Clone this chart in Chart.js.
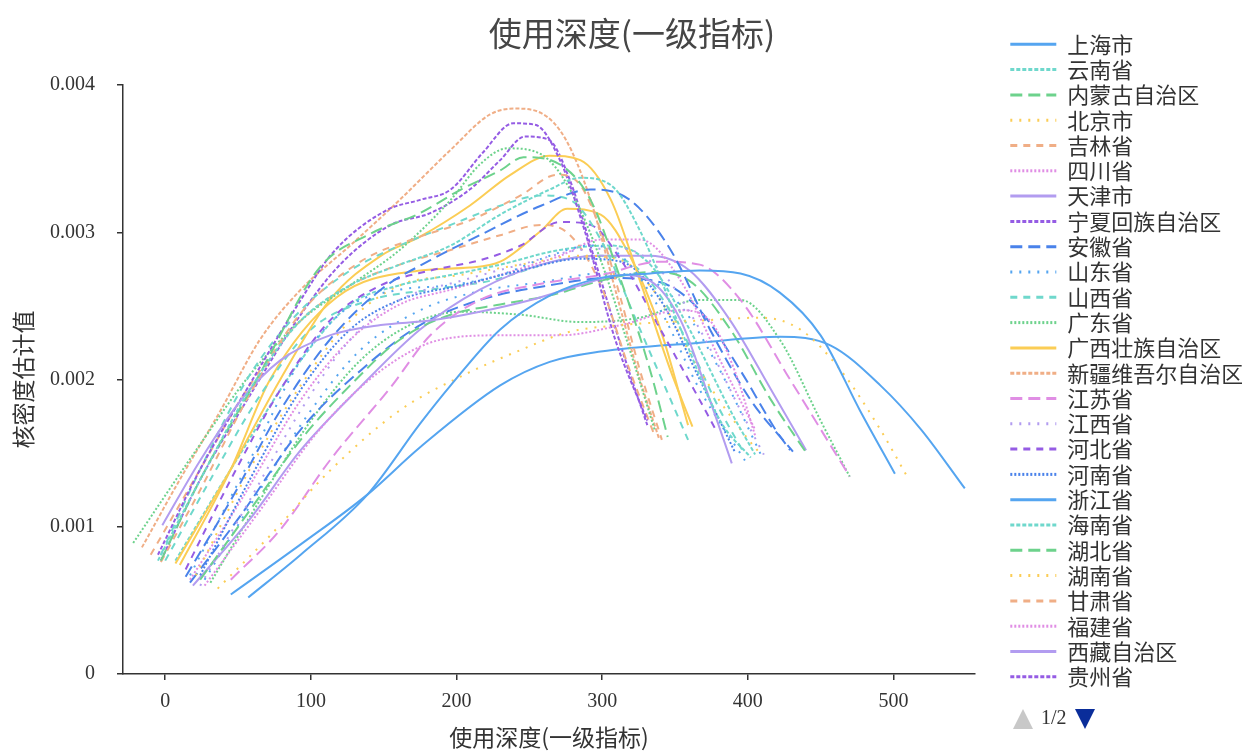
<!DOCTYPE html>
<html>
<head>
<meta charset="utf-8">
<script src="https://cdn.jsdelivr.net/npm/chart.js@4.4.1/dist/chart.umd.min.js"></script>
<style>
  html, body { margin: 0; padding: 0; background: #fff; }
  #wrap { width: 1242px; height: 751px; }
</style>
</head>
<body>
<div id="wrap"><canvas id="myChart" width="1242" height="751"></canvas></div>
<script>
// 使用深度(一级指标) kernel density curves, one per province
const chartTitle = '使用深度(一级指标)';
const xTitle = '使用深度(一级指标)';
const yTitle = '核密度估计值';

const provinces = ['上海市', '云南省', '内蒙古自治区', '北京市', '吉林省', '四川省', '天津市', '宁夏回族自治区',
  '安徽省', '山东省', '山西省', '广东省', '广西壮族自治区', '新疆维吾尔自治区', '江苏省', '江西省', '河北省',
  '河南省', '浙江省', '海南省', '湖北省', '湖南省', '甘肃省', '福建省', '西藏自治区', '贵州省',
  '辽宁省', '重庆市', '陕西省', '青海省', '黑龙江省'];

// x values of each density curve (same order as provinces)
const densityX = [
  [57, 93, 139, 175, 196, 230, 264, 299, 333, 367, 395, 422, 450, 477, 501],
  [-5, 24, 58, 93, 127, 161, 196, 230, 264, 285, 306, 326, 354, 381, 402],
  [-3, 24, 65, 106, 141, 175, 203, 230, 246, 271, 292, 313, 333, 345],
  [36, 72, 113, 161, 207, 244, 276, 313, 367, 409, 436, 464, 491, 510],
  [-3, 24, 58, 93, 134, 175, 209, 244, 269, 285, 299, 313, 326, 341],
  [27, 65, 106, 148, 189, 230, 271, 313, 354, 374, 391, 405],
  [-2, 24, 52, 79, 113, 148, 182, 216, 251, 285, 313, 333, 354, 374, 389],
  [-5, 24, 60, 93, 115, 152, 175, 196, 218, 239, 254, 271, 288, 309, 331],
  [14, 45, 79, 113, 148, 182, 216, 258, 292, 319, 347, 374, 402, 431],
  [17, 58, 93, 127, 161, 196, 230, 264, 292, 313, 340, 367, 398],
  [-3, 24, 58, 93, 127, 161, 196, 230, 258, 278, 299, 326, 359],
  [-22, 24, 58, 93, 127, 161, 196, 216, 235, 258, 278, 299, 319, 336],
  [7, 45, 79, 113, 148, 175, 209, 237, 264, 285, 306, 326, 347, 362],
  [-16, 10, 38, 65, 93, 127, 161, 196, 223, 240, 258, 275, 292, 309, 326, 339],
  [45, 79, 113, 155, 182, 216, 258, 299, 340, 367, 395, 429, 470],
  [24, 58, 93, 127, 161, 203, 244, 285, 313, 340, 367, 395, 411],
  [14, 45, 79, 113, 148, 182, 216, 244, 271, 292, 313, 340, 367, 379],
  [24, 58, 93, 127, 161, 203, 244, 285, 313, 340, 367, 391],
  [45, 93, 139, 175, 230, 264, 299, 367, 422, 457, 491, 519, 549],
  [7, 45, 93, 127, 161, 196, 230, 271, 306, 333, 360, 388, 405],
  [24, 58, 93, 127, 161, 196, 230, 264, 299, 333, 360, 388, 416, 441],
  [21, 58, 93, 127, 161, 203, 244, 285, 313, 340, 367, 395, 409],
  [-10, 24, 58, 93, 127, 161, 196, 230, 258, 278, 299, 319, 336],
  [17, 52, 93, 127, 161, 196, 230, 271, 299, 326, 354, 381, 405],
  [19, 58, 93, 134, 175, 216, 258, 299, 333, 360, 388, 416, 440],
  [-3, 24, 58, 93, 120, 155, 182, 209, 230, 247, 263, 278, 295, 316, 331],
  [17, 52, 93, 134, 175, 216, 264, 306, 340, 367, 395, 419, 429],
  [27, 65, 100, 134, 175, 216, 258, 299, 326, 354, 381, 409],
  [0, 31, 65, 100, 141, 182, 223, 271, 299, 326, 354, 381, 398],
  [31, 65, 100, 134, 168, 203, 244, 285, 326, 367, 395, 422, 450, 470],
  [10, 45, 72, 118, 175, 209, 230, 258, 276, 299, 319, 340, 359]
];

// estimated density values
const densityY = [
  [0.00052, 0.00081, 0.00122, 0.0017, 0.00196, 0.00234, 0.00257, 0.00269, 0.00272, 0.00274, 0.00272, 0.00259, 0.0023, 0.00179, 0.00136],
  [0.00077, 0.00132, 0.00193, 0.0024, 0.00264, 0.00278, 0.00291, 0.00312, 0.00329, 0.00337, 0.00332, 0.00301, 0.00234, 0.00172, 0.00147],
  [0.00077, 0.00132, 0.00204, 0.00276, 0.00299, 0.00313, 0.00329, 0.00342, 0.00351, 0.00346, 0.00322, 0.00267, 0.00206, 0.00161],
  [0.00058, 0.00094, 0.00138, 0.00179, 0.00204, 0.0022, 0.00232, 0.00237, 0.0024, 0.00242, 0.00234, 0.00206, 0.00166, 0.00133],
  [0.00076, 0.00125, 0.0019, 0.00245, 0.0028, 0.00297, 0.00308, 0.00325, 0.00339, 0.00332, 0.00301, 0.00254, 0.00206, 0.00159],
  [0.0006, 0.00111, 0.00166, 0.00206, 0.00227, 0.0023, 0.0023, 0.00237, 0.00247, 0.0024, 0.00206, 0.00162],
  [0.00101, 0.00145, 0.00186, 0.00213, 0.0023, 0.00237, 0.0024, 0.00246, 0.00254, 0.00264, 0.00271, 0.00267, 0.0024, 0.00186, 0.00143],
  [0.00081, 0.00139, 0.002, 0.00254, 0.00286, 0.00315, 0.00322, 0.00329, 0.00354, 0.00374, 0.00373, 0.00349, 0.00301, 0.00227, 0.00172],
  [0.00066, 0.00118, 0.00179, 0.00227, 0.00261, 0.00281, 0.00298, 0.00318, 0.00329, 0.00322, 0.00288, 0.00234, 0.00186, 0.00151],
  [0.00067, 0.00145, 0.00213, 0.0025, 0.00261, 0.00264, 0.00271, 0.00284, 0.00291, 0.00284, 0.00247, 0.00193, 0.00145],
  [0.00081, 0.00139, 0.00203, 0.00247, 0.00274, 0.00291, 0.00305, 0.00318, 0.00325, 0.00322, 0.00295, 0.00234, 0.00159],
  [0.00089, 0.00156, 0.00203, 0.0024, 0.00264, 0.00288, 0.00322, 0.00346, 0.00357, 0.00353, 0.00329, 0.00281, 0.0022, 0.00166],
  [0.00075, 0.00139, 0.002, 0.00254, 0.00284, 0.00297, 0.00318, 0.00339, 0.00352, 0.00349, 0.00322, 0.00267, 0.00206, 0.00168],
  [0.00086, 0.00132, 0.00179, 0.00227, 0.00261, 0.00291, 0.00322, 0.00356, 0.0038, 0.00384, 0.00381, 0.00363, 0.00322, 0.00261, 0.002, 0.0016],
  [0.00064, 0.00098, 0.00145, 0.00195, 0.0023, 0.00254, 0.00265, 0.00271, 0.0028, 0.00278, 0.00254, 0.002, 0.00134],
  [0.0006, 0.00118, 0.00179, 0.00227, 0.00254, 0.00267, 0.00278, 0.00288, 0.00289, 0.00274, 0.00234, 0.00179, 0.00149],
  [0.00071, 0.00132, 0.00193, 0.0024, 0.00264, 0.00274, 0.00281, 0.00291, 0.00307, 0.00305, 0.00281, 0.00234, 0.00186, 0.00164],
  [0.00067, 0.00132, 0.00193, 0.00234, 0.00254, 0.00264, 0.00274, 0.00282, 0.0028, 0.00254, 0.002, 0.00151],
  [0.00054, 0.00088, 0.00122, 0.00154, 0.00196, 0.00212, 0.00219, 0.00225, 0.00229, 0.00223, 0.00196, 0.00166, 0.00126],
  [0.00077, 0.00139, 0.00213, 0.00251, 0.00264, 0.00271, 0.00278, 0.00288, 0.00291, 0.00278, 0.00234, 0.00179, 0.00149],
  [0.00064, 0.00111, 0.00159, 0.00196, 0.00227, 0.00244, 0.00251, 0.00257, 0.00267, 0.00273, 0.00267, 0.00234, 0.00186, 0.00149],
  [0.00067, 0.00139, 0.00196, 0.0024, 0.00264, 0.00271, 0.00278, 0.00284, 0.00281, 0.00254, 0.00206, 0.00166, 0.00149],
  [0.00081, 0.00139, 0.00196, 0.0024, 0.00264, 0.00278, 0.00288, 0.00298, 0.00305, 0.00298, 0.00264, 0.00206, 0.00162],
  [0.00064, 0.00118, 0.00186, 0.00227, 0.00251, 0.00261, 0.00271, 0.00284, 0.00295, 0.00295, 0.00267, 0.00213, 0.00166],
  [0.0006, 0.00105, 0.00152, 0.00195, 0.00234, 0.00261, 0.00278, 0.00284, 0.00284, 0.00274, 0.0024, 0.00193, 0.00152],
  [0.00077, 0.00132, 0.00189, 0.00244, 0.00278, 0.00305, 0.00313, 0.00329, 0.00349, 0.00365, 0.00363, 0.00335, 0.00281, 0.00213, 0.00169],
  [0.00062, 0.00108, 0.00166, 0.00206, 0.00237, 0.00254, 0.00264, 0.00269, 0.00266, 0.00247, 0.00206, 0.00166, 0.00152],
  [0.00064, 0.00125, 0.00179, 0.0022, 0.00247, 0.0026, 0.00266, 0.00272, 0.0027, 0.0025, 0.00206, 0.00149],
  [0.00077, 0.00132, 0.00189, 0.00234, 0.00254, 0.00261, 0.00267, 0.00281, 0.00284, 0.00274, 0.00234, 0.00179, 0.00149],
  [0.00062, 0.00118, 0.00172, 0.00213, 0.00237, 0.00246, 0.00244, 0.00239, 0.00242, 0.00254, 0.00254, 0.00227, 0.00172, 0.00134],
  [0.00074, 0.00139, 0.002, 0.00256, 0.00274, 0.00276, 0.0028, 0.00301, 0.00316, 0.00312, 0.00284, 0.00234, 0.00169]
];

const xTickValues = [0, 100, 200, 300, 400, 500];
const yTickValues = [0, 0.001, 0.002, 0.003, 0.004];
const yTickLabels = ['0', '0.001', '0.002', '0.003', '0.004'];
const legendPageSize = 26;

const palette = ['#55a5f0', '#6fd8cc', '#6dd28c', '#fbcd55', '#f0ae86', '#e08ee4', '#b29cf0', '#955ce4', '#4a82ea'];
const dashes = [[], [4, 2], [12, 6], [2, 7], [7, 6], [2, 2]];

const cjk = "'Noto Sans CJK SC', 'Noto Sans', sans-serif";
const serif = "'Liberation Serif', 'DejaVu Serif', serif";

const datasets = provinces.map((name, i) => ({
  label: name,
  data: densityX[i].map((x, j) => ({ x: x, y: densityY[i][j] })),
  borderColor: palette[i % palette.length],
  backgroundColor: palette[i % palette.length],
  borderDash: dashes[i % dashes.length],
  borderWidth: 2,
  pointRadius: 0,
  pointStyle: 'line',
  fill: false,
  cubicInterpolationMode: 'monotone'
}));

// title and legend pager drawn on top
const overlay = {
  id: 'overlay',
  afterDraw(chart) {
    const ctx = chart.ctx;
    ctx.save();
    ctx.fillStyle = '#464646';
    ctx.font = '33px ' + cjk;
    ctx.textAlign = 'center';
    ctx.textBaseline = 'middle';
    ctx.fillText(chartTitle, 632, 33);

    const lx = chart.legend.left + 6;
    const py = 719;
    ctx.fillStyle = '#c8c8c8';
    ctx.beginPath();
    ctx.moveTo(lx, py + 10);
    ctx.lineTo(lx + 20, py + 10);
    ctx.lineTo(lx + 10, py - 10);
    ctx.closePath();
    ctx.fill();
    ctx.fillStyle = '#333';
    ctx.font = '20px ' + serif;
    ctx.textAlign = 'left';
    ctx.fillText('1/2', lx + 28, py);
    ctx.fillStyle = '#0a2d9a';
    ctx.beginPath();
    ctx.moveTo(lx + 62, py - 10);
    ctx.lineTo(lx + 82, py - 10);
    ctx.lineTo(lx + 72, py + 10);
    ctx.closePath();
    ctx.fill();
    ctx.restore();
  }
};

new Chart(document.getElementById('myChart'), {
  type: 'line',
  data: { datasets: datasets },
  options: {
    responsive: false,
    animation: false,
    events: [],
    devicePixelRatio: 1,
    layout: { padding: { top: 30, left: 9, right: 0, bottom: 0 } },
    plugins: {
      title: { display: false },
      tooltip: { enabled: false },
      legend: {
        position: 'right',
        align: 'start',
        maxWidth: 235,
        labels: {
          usePointStyle: true,
          pointStyleWidth: 46,
          padding: 3.3,
          color: '#333',
          font: { family: cjk, size: 22 },
          filter: item => item.datasetIndex < legendPageSize,
          generateLabels(chart) {
            const items = Chart.defaults.plugins.legend.labels.generateLabels(chart);
            items.forEach(it => {
              const ds = chart.data.datasets[it.datasetIndex];
              it.lineWidth = 3;
              it.pointStyle = 'line';
              it.lineDash = ds.borderDash;
              it.strokeStyle = ds.borderColor;
            });
            return items;
          }
        }
      }
    },
    scales: {
      x: {
        type: 'linear',
        min: -29,
        max: 556,
        afterBuildTicks: s => { s.ticks = xTickValues.map(v => ({ value: v })); },
        grid: { display: true, drawOnChartArea: false, drawTicks: true, tickLength: 6, color: '#333', lineWidth: 1.5 },
        border: { display: true, color: '#333', width: 1.5 },
        ticks: { color: '#333', font: { family: serif, size: 20 }, padding: 10, maxRotation: 0 },
        title: { display: true, text: xTitle, color: '#333', font: { family: cjk, size: 23 }, padding: 0 },
        afterFit: s => { s.height = 77; }
      },
      y: {
        type: 'linear',
        min: 0,
        max: 0.004,
        afterBuildTicks: s => { s.ticks = yTickValues.map(v => ({ value: v })); },
        grid: { display: true, drawOnChartArea: false, drawTicks: true, tickLength: 6, color: '#333', lineWidth: 1.5 },
        border: { display: true, color: '#333', width: 1.5 },
        ticks: { color: '#333', font: { family: serif, size: 20 }, padding: 22, callback: (v, i) => yTickLabels[i] },
        title: { display: true, text: yTitle, color: '#333', font: { family: cjk, size: 23 }, padding: 0 },
        afterFit: s => { s.width = 114; }
      },
      xTop: {
        type: 'linear',
        position: 'top',
        grid: { display: false },
        ticks: { display: false },
        border: { display: false },
        afterFit: s => { s.height = 55; }
      },
      yRight: {
        type: 'linear',
        position: 'right',
        grid: { display: false },
        ticks: { display: false },
        border: { display: false },
        afterFit: s => { s.width = 32; }
      }
    }
  },
  plugins: [overlay]
});
</script>
</body>
</html>
